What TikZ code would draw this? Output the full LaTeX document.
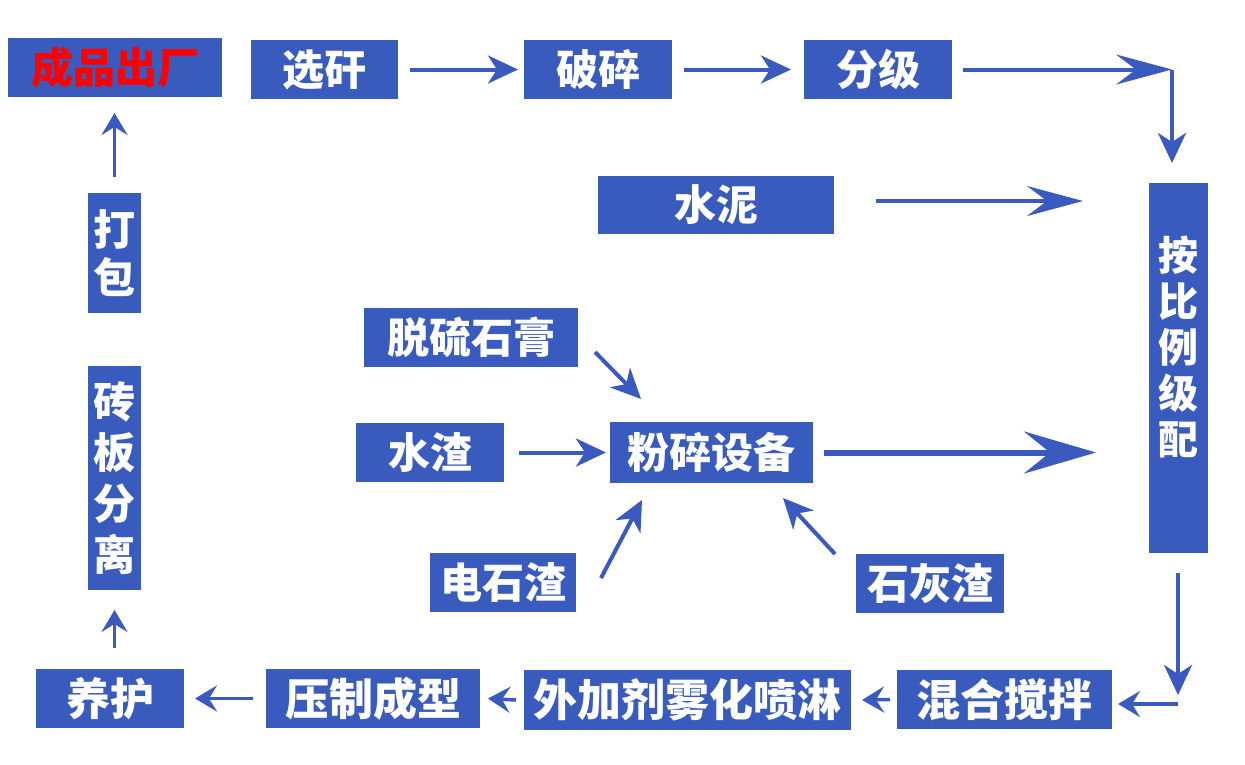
\documentclass[tikz,border=0pt]{standalone}
\usepackage{fontspec}
\newfontfamily\cjk{Noto Sans CJK SC}
\usetikzlibrary{arrows.meta}
\definecolor{boxblue}{RGB}{58,91,190}
\definecolor{arrblue}{RGB}{58,90,192}
\definecolor{txtred}{RGB}{255,0,0}
\begin{document}
\begin{tikzpicture}[x=1pt,y=-1pt,
  box/.style={fill=boxblue, text=white, inner sep=0pt, outer sep=0pt,
    font=\cjk\bfseries\fontsize{42pt}{46pt}\selectfont},
  bbox/.style={box, font=\cjk\bfseries\fontsize{44pt}{48pt}\selectfont},
  vtext/.style={text=white, inner sep=0pt, align=center},
  arr/.style={draw=arrblue, line width=4pt,
    -{Stealth[length=30pt,width=28pt,inset=9pt]}},
  arrlong/.style={draw=arrblue, line width=4pt,
    -{Stealth[length=56pt,width=30pt,inset=20pt]}},
  arrbig/.style={draw=arrblue, line width=6pt,
    -{Stealth[length=72pt,width=42pt,inset=26pt]}},
  arrs/.style={draw=arrblue, line width=3.5pt,
    -{Stealth[length=22pt,width=26pt,inset=8pt]}}
]
\useasboundingbox (0,0) rectangle (1245,764);
\fill[white] (0,0) rectangle (1245,764);

% top row
\node[box, minimum width=214pt, minimum height=59pt, text=txtred] (cp) at (115,67.5) {成品出厂};
\node[box, minimum width=147pt, minimum height=59pt] (xg) at (324.5,69.5) {选矸};
\node[box, minimum width=148pt, minimum height=59pt] (ps) at (598,69.5) {破碎};
\node[box, minimum width=148pt, minimum height=59pt] (fj) at (878,69.5) {分级};
\node[box, minimum width=236pt, minimum height=58pt] (sn) at (716,205) {水泥};

% right column
\node[box, minimum width=59pt, minimum height=370pt] (ab) at (1178.5,368) {};
\node[vtext, font=\cjk\bfseries\fontsize{40pt}{46pt}\selectfont] (abt) at ([yshift=21pt]ab.center) {按\\比\\例\\级\\配};

% middle group
\node[box, minimum width=214pt, minimum height=59pt] (tl) at (471,337.5) {脱硫石膏};
\node[box, minimum width=148pt, minimum height=59pt] (sz) at (430,452.5) {水渣};
\node[box, minimum width=203pt, minimum height=61pt] (fs) at (711.5,452.5) {粉碎设备};
\node[box, minimum width=146pt, minimum height=59pt] (ds) at (503,582.5) {电石渣};
\node[box, minimum width=148pt, minimum height=59pt] (sh) at (930,583.5) {石灰渣};

% bottom row
\node[bbox, minimum width=148pt, minimum height=59pt] (yh) at (110,698.5) {养护};
\node[bbox, minimum width=214pt, minimum height=59pt] (yz) at (373,698.5) {压制成型};
\node[bbox, minimum width=327pt, minimum height=60pt] (wj) at (687.5,700) {外加剂雾化喷淋};
\node[bbox, minimum width=215pt, minimum height=59pt] (hh) at (1004.5,699.5) {混合搅拌};

% left column
\node[box, minimum width=53pt, minimum height=120pt] (db) at (114.5,253) {};
\node[vtext, font=\cjk\bfseries\fontsize{42pt}{48pt}\selectfont] (dbt) at (db.center) {打\\包};
\node[box, minimum width=53pt, minimum height=224pt] (zb) at (114.5,478) {};
\node[vtext, font=\cjk\bfseries\fontsize{42pt}{51pt}\selectfont] (zbt) at (zb.center) {砖\\板\\分\\离};

% coordinates for free ends / corners
\coordinate (c1) at (1172,69.5);
\coordinate (c2) at (1178,704);
\coordinate (snE) at (1083,201);
\coordinate (fsE) at (1096,452.5);

% top connectors
\draw[arr] ([xshift=12pt]xg.east) -- ([xshift=-6pt]ps.west);
\draw[arr] ([xshift=12pt]ps.east) -- ([xshift=-13pt]fj.west);
\draw[arrlong] ([xshift=11pt]fj.east) -- (c1);
\draw[arr, shorten >=20pt] (c1) -- (ab.north -| c1);
\draw[arrlong] ([xshift=42pt,yshift=4pt]sn.east) -- (snE);

% middle connectors
\draw[arr] ([shift={(17,14.5)}]tl.east) -- ([shift={(-70.5,-23)}]fs.north);
\draw[arr] ([xshift=15pt]sz.east) -- ([xshift=-4pt]fs.west);
\draw[arr] ([shift={(25,-4.5)}]ds.east) -- ([shift={(-69.5,17)}]fs.south);
\draw[arr] ([shift={(-95,0)}]sh.north) -- ([shift={(71.5,15)}]fs.south);
\draw[arrbig] ([xshift=11pt]fs.east) -- (fsE);

% right-bottom connectors
\draw[arr] ([yshift=-20pt]ab.south -| c2) -- ([yshift=9pt]c2);
\draw[arrs] (c2) -- ([xshift=6pt]c2 -| hh.east);

% bottom connectors
\draw[arrs] ([xshift=-7pt]hh.west) -- ([xshift=11pt]wj.west -| wj.east);
\draw[arrs] ([xshift=-8pt]wj.west) -- ([xshift=8pt]yz.east);
\draw[arrs] ([xshift=-13pt]yz.west) -- ([xshift=11pt]yh.east);

% left connectors
\draw[arrs] ([yshift=21pt]yh.north -| zb.south) -- ([yshift=-20pt]zb.south);
\draw[arrs] ([yshift=16pt]db.north) -- ([yshift=-16pt]cp.south -| db.north);
\end{tikzpicture}
\end{document}
